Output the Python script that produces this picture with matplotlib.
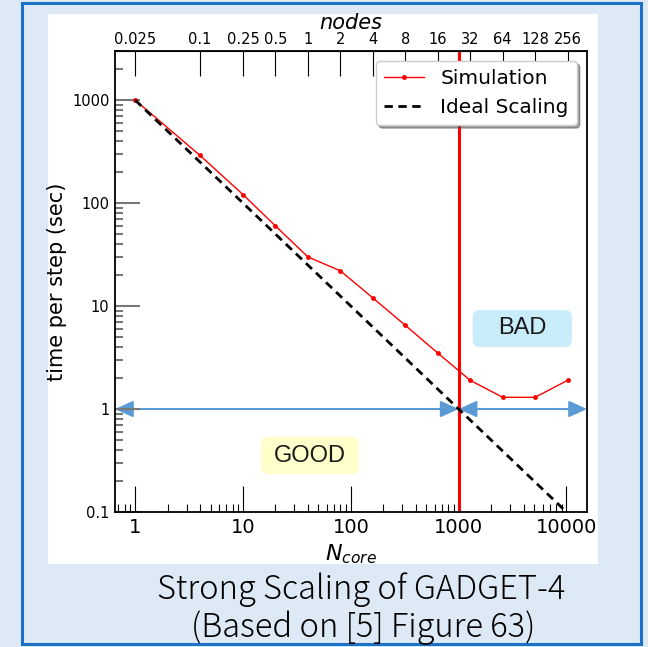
import matplotlib
matplotlib.use('Agg')
import matplotlib.pyplot as plt
import matplotlib.transforms as mtransforms
from matplotlib.patches import Rectangle, FancyBboxPatch
from matplotlib.ticker import NullFormatter, NullLocator

plt.rcParams['font.family'] = ['DejaVu Sans']
plt.rcParams['mathtext.fontset'] = 'dejavusans'

# ---- data ----
n_core = [1, 4, 10, 20, 40, 80, 160, 320, 640, 1280, 2560, 5120, 10240]
sim_time = [1000, 290, 121, 60, 30, 22, 12, 6.5, 3.5, 1.9, 1.3, 1.3, 1.9]
ideal_n = [1, 10240]
ideal_time = [1000, 1000 / 10240]
cores_per_node = 40
node_ticks = [0.025, 0.1, 0.25, 0.5, 1, 2, 4, 8, 16, 32, 64, 128, 256]
node_labels = ['0.025', '0.1', '0.25', '0.5', '1', '2', '4', '8', '16', '32', '64', '128', '256']
x_ticks = [1, 10, 100, 1000, 10000]
x_labels = ['1', '10', '100', '1000', '10000']
y_ticks = [0.1, 1, 10, 100, 1000]
y_labels = ['0.1', '1', '10', '100', '1000']
threshold_core = 1000
target_time = 1

W, H = 648, 647
fig = plt.figure(figsize=(W / 100, H / 100), dpi=100)
fig.patch.set_facecolor('#dde9f5')
# white panel
fig.add_artist(Rectangle((48 / W, 1 - 564 / H), 550 / W, 550 / H, transform=fig.transFigure,
                         facecolor='white', edgecolor='none', zorder=-2))
# blue border
fig.add_artist(Rectangle((22 / W, 3 / H), 619 / W, 641 / H, transform=fig.transFigure,
                         fill=False, edgecolor='#1a73c6', lw=2.2, zorder=-1))

ax = fig.add_axes([115 / W, 1 - 512 / H, 472 / W, 461 / H])
ax.set_xscale('log')
ax.set_yscale('log')
ax.set_xlim(0.65, 15500)
ax.set_ylim(0.1, 3000)

sim_line, = ax.plot(n_core, sim_time, color='red', lw=1.0, marker='o', ms=2.5, zorder=3,
                    label='Simulation')
ideal_line, = ax.plot(ideal_n, ideal_time, color='black', lw=2.0, ls=(0, (3, 2)), zorder=4,
                      label='Ideal Scaling')
ax.axvline(threshold_core, color='red', lw=2.2, zorder=2.5)

# arrows
trans = mtransforms.blended_transform_factory(ax.transAxes, ax.transData)
arrow_kw = dict(arrowstyle='<|-|>,head_length=0.55,head_width=0.25', color='#5b9bd5', lw=1.5,
                shrinkA=0, shrinkB=0, mutation_scale=20)
ax.annotate('', xy=(0, target_time), xycoords=trans, xytext=(threshold_core, target_time),
            textcoords='data', arrowprops=arrow_kw, annotation_clip=False, zorder=1.5)
ax.annotate('', xy=(1, target_time), xycoords=trans, xytext=(threshold_core, target_time),
            textcoords='data', arrowprops=arrow_kw, annotation_clip=False, zorder=1.5)

# label boxes
ax.add_patch(FancyBboxPatch((0.758, 0.358), 0.21, 0.08, transform=ax.transAxes,
                            boxstyle='round,pad=0,rounding_size=0.015', mutation_aspect=1,
                            facecolor='#c9ecfa', edgecolor='none', zorder=1))
ax.text(0.862, 0.399, 'BAD', transform=ax.transAxes, ha='center', va='center', fontsize=17,
        color='#1a1a1a', zorder=2, family=['Liberation Sans', 'DejaVu Sans'])
ax.add_patch(FancyBboxPatch((0.309, 0.082), 0.208, 0.081, transform=ax.transAxes,
                            boxstyle='round,pad=0,rounding_size=0.015', mutation_aspect=1,
                            facecolor='#ffffcc', edgecolor='none', zorder=1))
ax.text(0.413, 0.121, 'GOOD', transform=ax.transAxes, ha='center', va='center', fontsize=17,
        color='#1a1a1a', zorder=2, family=['Liberation Sans', 'DejaVu Sans'])

# ticks
ax.set_xticks(x_ticks, x_labels)
ax.xaxis.set_minor_formatter(NullFormatter())
ax.tick_params(axis='x', which='major', direction='in', length=19, width=0.8, labelsize=14,
               color='black', top=False, pad=4)
ax.tick_params(axis='x', which='minor', direction='in', length=6, width=0.8, color='black', top=False)
ax.set_yticks(y_ticks, y_labels)
ax.yaxis.set_minor_formatter(NullFormatter())
ax.tick_params(axis='y', which='major', direction='in', length=18, width=1.5, color='#777777',
               labelsize=10.5, right=False, pad=4)
ax.tick_params(axis='y', which='minor', direction='in', length=6, width=1.5, color='#777777', right=False)
for s in ax.spines.values():
    s.set_linewidth(1.3)

ax.set_xlabel('$N_{core}$', fontsize=16, labelpad=4)
ax.set_ylabel('time per step (sec)', fontsize=15, labelpad=4)

secax = ax.secondary_xaxis('top', functions=(lambda x: x / cores_per_node, lambda x: x * cores_per_node))
secax.set_xticks(node_ticks, node_labels)
secax.xaxis.set_minor_locator(NullLocator())
secax.tick_params(axis='x', which='major', direction='in', length=18, width=0.8, labelsize=10.5, pad=3)
secax.set_xlabel('nodes', fontsize=15, style='italic', labelpad=2)

leg = ax.legend(handles=[sim_line, ideal_line], loc='upper right', fontsize=14.5, fancybox=True,
                shadow=True, framealpha=1, edgecolor='#cccccc', handlelength=2.0)
leg.set_zorder(6)

cap_font = ['Noto Sans CJK JP', 'DejaVu Sans']
fig.text(361 / W, 1 - 590 / H, 'Strong Scaling of GADGET-4', ha='center', va='center', fontsize=23.5,
         family=cap_font, fontweight='light', color='#000000')
fig.text(363 / W, 1 - 628 / H, '(Based on [5] Figure 63)', ha='center', va='center', fontsize=23.5,
         family=cap_font, fontweight='light', color='#000000')

fig.savefig('out.png', dpi=100, facecolor=fig.get_facecolor())
